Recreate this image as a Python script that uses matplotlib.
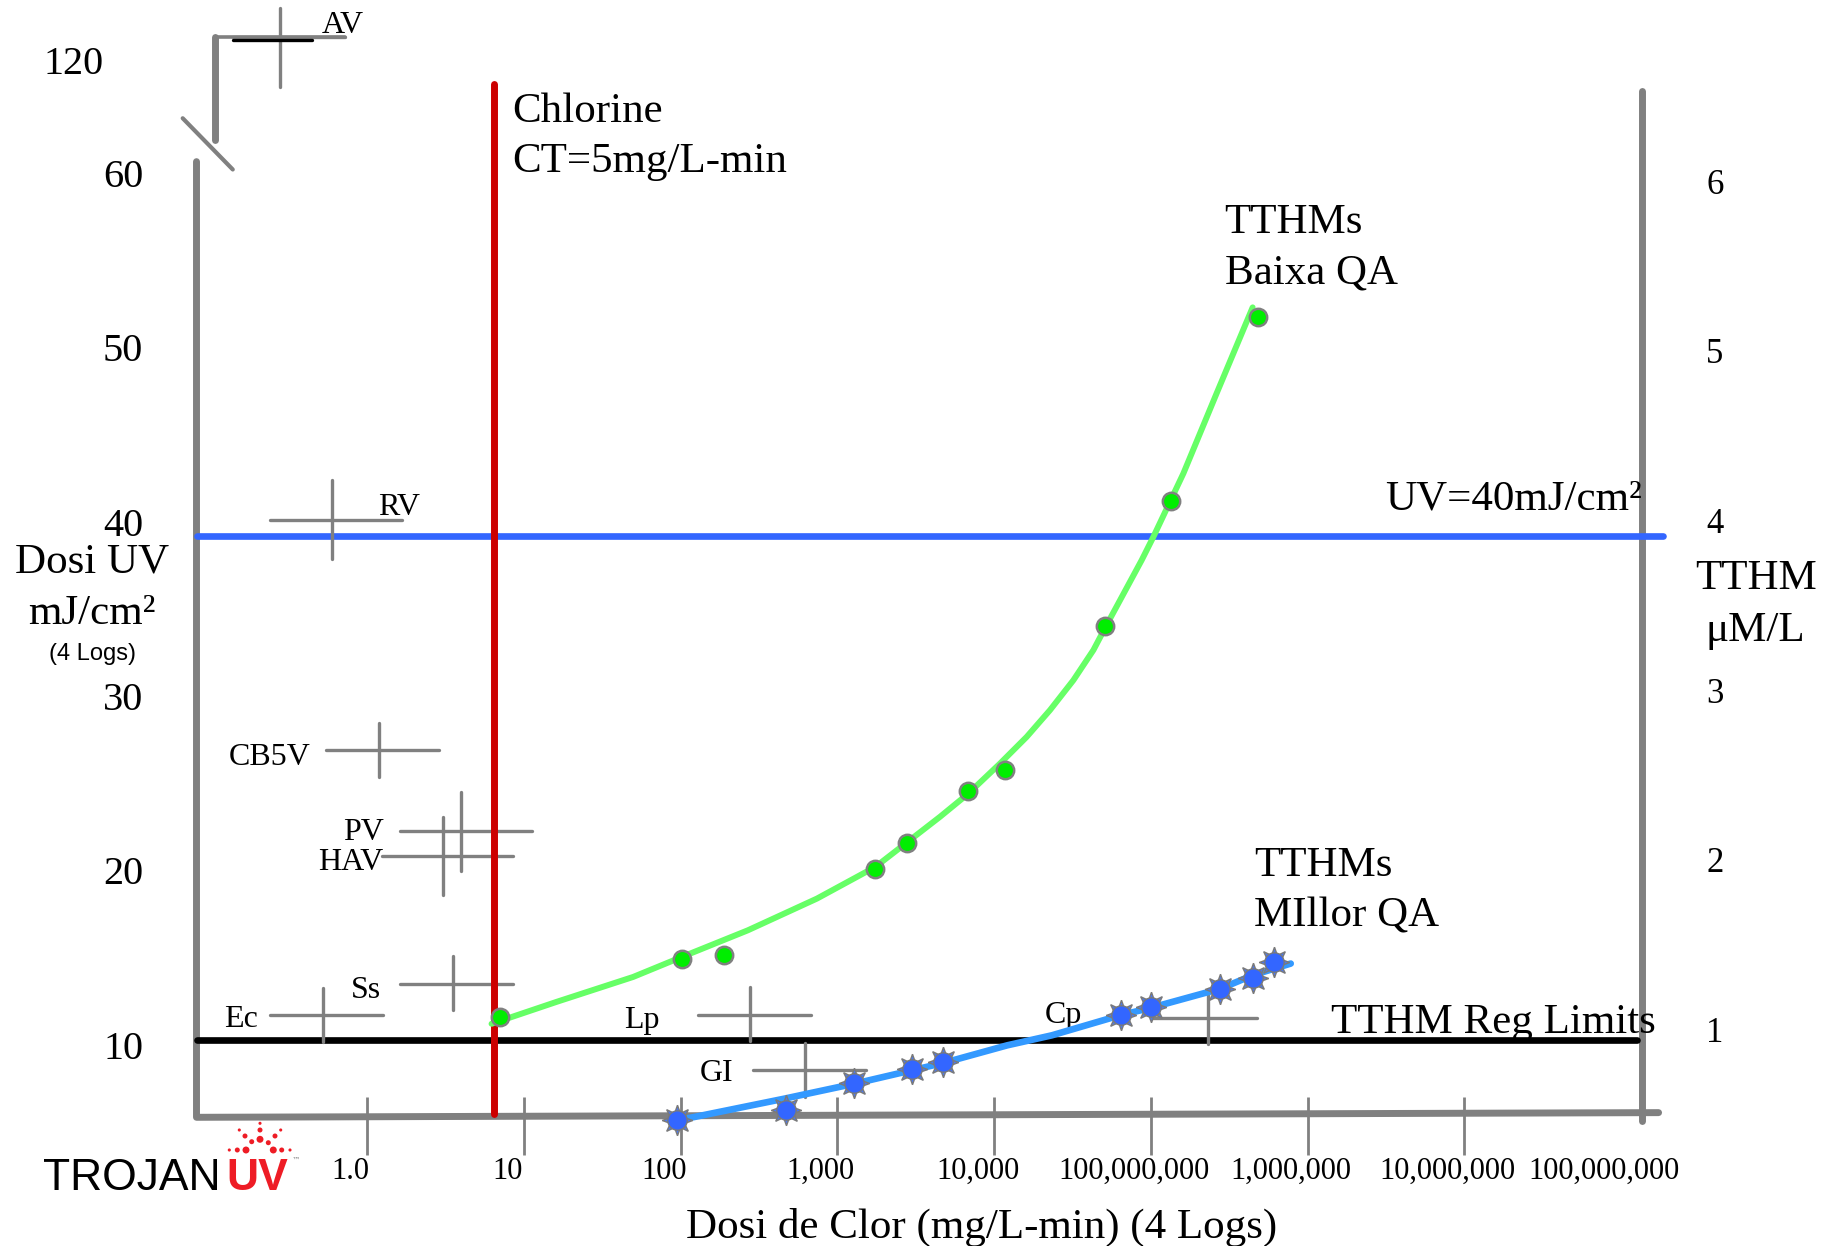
import numpy as np
import matplotlib
matplotlib.use('Agg')
import matplotlib.pyplot as plt
from matplotlib import transforms

plt.rcParams['font.family'] = ['Liberation Serif', 'DejaVu Serif']

# ---------------- data ----------------
x_tick_log10 = [0, 1, 2, 3, 4, 5, 6, 7, 8]
x_tick_labels = ['1.0', '10', '100', '1,000', '10,000', '100,000,000',
                 '1,000,000', '10,000,000', '100,000,000']
x_tick_marks_log10 = [0, 1, 2, 3, 4, 5, 6, 7]
uv_ticks = [10, 20, 30, 40, 50, 60]
tthm_ticks = [1, 2, 3, 4, 5, 6]

chlorine_ct_log10 = 0.806          # vertical red line (CT = 5 mg/L-min)
uv_line_value = 39.2               # UV = 40 mJ/cm2 line
reg_limit_value = 10.27            # TTHM Reg Limits line (UV-axis units)

# TTHMs Baixa QA (green)  -- x: log10 chlorine dose, y: TTHM uM/L
green_curve_log10 = [0.793, 1.207, 1.696, 2.007, 2.428, 2.869, 3.242, 3.654, 3.835,
                     4.037, 4.207, 4.356, 4.505, 4.633, 4.711, 4.803, 4.941, 5.016,
                     5.207, 5.419, 5.649]
green_curve_tthm = [1.034, 1.163, 1.310, 1.428, 1.585, 1.772, 1.959, 2.254, 2.391,
                    2.568, 2.725, 2.883, 3.059, 3.237, 3.374, 3.531, 3.767, 3.905,
                    4.278, 4.750, 5.257]
green_pts_log10 = [0.846, 2.007, 2.275, 3.242, 3.445, 3.835, 4.072, 4.709, 5.126, 5.684]
green_pts_tthm = [1.074, 1.418, 1.442, 1.945, 2.097, 2.407, 2.532, 3.378, 4.114, 5.198]

# TTHMs Millor QA (blue)
blue_curve_log10 = [1.978, 2.089, 2.658, 3.109, 3.476, 3.675, 4.083, 4.368, 4.804,
                    5.003, 5.444, 5.649, 5.892]
blue_curve_tthm = [0.465, 0.485, 0.592, 0.681, 0.760, 0.803, 0.907, 0.966, 1.084,
                   1.129, 1.241, 1.320, 1.389]
blue_pts_log10 = [1.978, 2.672, 3.104, 3.478, 3.672, 4.806, 5.000, 5.440, 5.649, 5.784]
blue_pts_tthm = [0.465, 0.524, 0.683, 0.766, 0.807, 1.083, 1.131, 1.241, 1.303, 1.400]

# organisms: chlorine range (log10) and UV range
org_names = ['AV', 'RV', 'CB5V', 'PV', 'HAV', 'Ss', 'Ec', 'Lp', 'GI', 'Cp']
org_ct_lo_log10 = [-0.858, -0.621, -0.263, 0.209, 0.091, 0.209, -0.622, 2.107, 2.459, 5.007]
org_ct_hi_log10 = [-0.142, 0.221, 0.457, 1.051, 0.929, 0.929, 0.099, 2.831, 3.185, 5.679]
org_ct_mid_log10 = [-0.557, -0.228, 0.075, 0.599, 0.484, 0.545, -0.285, 2.441, 2.796, 5.366]
org_uv_mid = [67.83, 40.09, 26.89, 22.27, 20.83, 13.51, 11.72, 11.72, 8.54, 11.55]
org_uv_lo = [64.97, 37.85, 25.34, 19.97, 18.58, 11.98, 10.16, 10.20, 7.00, 10.07]
org_uv_hi = [69.46, 42.39, 28.44, 24.50, 23.07, 15.07, 13.28, 13.31, 10.10, 13.22]

# ---------------- layout ----------------
GRAY = '#808080'
fig = plt.figure(figsize=(18.34, 12.46), dpi=100)
ax = fig.add_axes([0.107143, 0.103286, 0.788265, 0.823474])
ax.set_xscale('log')
XMIN_L, XMAX_L = -1.08955, 8.13433
YMIN, YMAX = 5.8389, 64.698
ax.set_xlim(10 ** XMIN_L, 10 ** XMAX_L)
ax.set_ylim(YMIN, YMAX)
for s in ax.spines.values():
    s.set_visible(False)
ax.set_xticks([])
ax.set_xticks([], minor=True)
ax.set_yticks(uv_ticks)
ax.set_yticklabels([str(v) for v in uv_ticks], fontsize=29)
ax.tick_params(axis='y', length=0, pad=38.5)

ax2 = ax.twinx()
ax2.set_ylim(0.48276, 6.5310)
for s in ax2.spines.values():
    s.set_visible(False)
ax2.set_yticks(tthm_ticks)
ax2.set_yticklabels([str(v) for v in tthm_ticks], fontsize=25)
ax2.tick_params(axis='y', length=0, pad=46)

X = lambda l: 10 ** np.asarray(l, dtype=float)
kw = dict(clip_on=False, solid_capstyle='round', solid_joinstyle='round')
TDY = -0.22   # small vertical nudge for text centres (UV-axis units)

# axes frame (hand drawn look)
ax.plot(X([XMIN_L, XMIN_L, 8.239]), [60.66, YMIN, 6.107], color=GRAY, lw=5, **kw)
ax.plot(X([XMAX_L, XMAX_L]), [5.64, YMAX], color=GRAY, lw=5, **kw)
# axis break
ax.plot(X([-0.9716, -0.9716]), [61.92, 67.83], color=GRAY, lw=5, **kw)
ax.plot(X([-0.9716, -0.142]), [67.83, 67.83], color=GRAY, lw=2.6, **kw)
ax.plot(X([-1.1776, -0.8582]), [63.15, 60.21], color=GRAY, lw=3, **kw)
ax.text(X(-1.873), 66.49 - 0.27, '120', fontsize=29, ha='center', va='center')

# x ticks
ax.vlines(X(x_tick_marks_log10), 3.66, 6.98, color=GRAY, lw=2, clip_on=False)
off = transforms.ScaledTranslation(-12 / 72, 0, fig.dpi_scale_trans)
for l, lab in zip(x_tick_log10, x_tick_labels):
    ax.text(X(l), 2.95 + TDY, lab, fontsize=22, ha='center', va='center',
            transform=ax.transData + off)

# reference lines
ax.plot(X([XMIN_L, 8.104]), [reg_limit_value] * 2, color='black', lw=4.8, **kw)
ax.plot(X([XMIN_L, 8.269]), [uv_line_value] * 2, color='#3366ff', lw=4.8, **kw)

# organism crosses
for i, name in enumerate(org_names):
    ax.plot(X([org_ct_lo_log10[i], org_ct_hi_log10[i]]), [org_uv_mid[i]] * 2,
            color=GRAY, lw=2.4, **kw)
    ax.plot(X([org_ct_mid_log10[i]] * 2), [org_uv_lo[i], org_uv_hi[i]],
            color=GRAY, lw=2.4, **kw)
ax.plot(X([-0.858, -0.352]), [67.65, 67.65], color='black', lw=2.4, **kw)

# organism labels: (anchor on arm: 'left' end or 'mid' line), offset in points
label_layout = {
    'AV': ('mid', 'left', 30, 8.0),
    'RV': ('mid', 'left', 33.3, 9.0),
    'CB5V': ('left', 'right', -10.8, -4.8),
    'PV': ('left', 'right', -11.8, -1.5),
    'HAV': ('left', 'right', 1.5, -4.5),
    'Ss': ('left', 'right', -13.5, -5.3),
    'Ec': ('left', 'right', -8.2, -3.1),
    'Lp': ('left', 'right', -27.2, -3.9),
    'GI': ('left', 'right', -13.9, -2.7),
    'Cp': ('left', 'right', -50.5, 1.7),
}
for i, name in enumerate(org_names):
    anchor, ha, dx, dy = label_layout[name]
    xa = org_ct_lo_log10[i] if anchor == 'left' else org_ct_mid_log10[i]
    ax.annotate(name, xy=(X(xa), org_uv_mid[i]), xytext=(dx, dy),
                textcoords='offset points', ha=ha, va='center', fontsize=23,
                annotation_clip=False)

# chlorine line
ax.plot(X([chlorine_ct_log10] * 2), [6.04, 65.10], color='#cc0000', lw=5, **kw)

# TTHM curves on the right axis
ax2.plot(X(green_curve_log10), green_curve_tthm, color='#66ff66', lw=4.3, **kw)
ax2.plot(X(green_pts_log10), green_pts_tthm, linestyle='none', marker='o', ms=12.5,
         mfc='#00ee00', mec=GRAY, mew=1.8, clip_on=False)
ax2.plot(X(blue_curve_log10), blue_curve_tthm, color='#3399ff', lw=4.8, **kw)
ax2.plot(X(blue_pts_log10), blue_pts_tthm, linestyle='none', marker=(8, 1, 0), ms=22,
         mfc='#4a78f0', mec='#7a7a7a', mew=1.0, clip_on=False)
ax2.plot(X(blue_pts_log10), blue_pts_tthm, linestyle='none', marker='o', ms=14,
         mfc='#3366ff', mec='#7a7a7a', mew=1.0, clip_on=False)

# text annotations
big = 31
texts_left = [
    (0.925, 63.76, 'Chlorine'),
    (0.925, 60.87, 'CT=5mg/L-min'),
    (5.470, 57.38, 'TTHMs'),
    (5.470, 54.50, 'Baixa QA'),
    (6.493, 41.54, 'UV=40mJ/cm²'),
    (5.657, 20.47, 'TTHMs'),
    (5.657, 17.58, 'MIllor QA'),
    (6.149, 11.48, 'TTHM Reg Limits'),
]
for l, v, s in texts_left:
    ax.text(X(l), v + TDY, s, fontsize=big, va='center')
ax.text(X(3.918), -0.27 + TDY, 'Dosi de Clor (mg/L-min) (4 Logs)', fontsize=big,
        ha='center', va='center')
ax.text(X(-1.754), 37.92 + TDY, 'Dosi UV', fontsize=big, ha='center', va='center')
ax.text(X(-1.754), 34.97 + TDY, 'mJ/cm²', fontsize=big, ha='center', va='center')
ax.text(X(-1.750), 32.62 + TDY, '(4 Logs)', fontsize=17, ha='center', va='center',
        family=['Liberation Sans', 'DejaVu Sans'])
ax.text(X(8.858), 36.98 + TDY, 'TTHM', fontsize=big, ha='center', va='center')
ax.text(X(8.858), 33.96 + TDY, 'μM/L', fontsize=big, ha='center', va='center')

# logo
fig.text(43 / 1834, 0.04494, 'TROJAN', fontsize=32, color='black', va='baseline',
         family=['Liberation Sans', 'DejaVu Sans'])
fig.text(226 / 1834, 0.04494, 'UV', fontsize=32, color='#ee1c25', va='baseline',
         fontweight='bold', family=['Liberation Sans', 'DejaVu Sans'])
fig.text(292 / 1834, 1 - 1160 / 1246, '™', fontsize=6, color=GRAY, va='center',
         family=['DejaVu Sans'])
logo_dot_x = [260, 239.3, 260, 280.7, 245, 275, 251.7, 260, 268.3, 229.3, 237.3, 246, 273.3, 281.7, 290]
logo_dot_y = [1123.3, 1130, 1130, 1130, 1136, 1136, 1141.7, 1139.3, 1142.7, 1150, 1150, 1150, 1150, 1150, 1150]
logo_dot_s = [5, 5, 13, 5, 13, 13, 13, 25, 13, 5, 13, 25, 25, 13, 5]
lax = fig.add_axes([0, 0, 1, 1])
lax.set_xlim(0, 1834)
lax.set_ylim(1246, 0)
lax.axis('off')
lax.scatter(logo_dot_x, logo_dot_y, s=logo_dot_s, color='#ee1c25', linewidths=0)

fig.savefig('out.png', dpi=100, facecolor='white')
